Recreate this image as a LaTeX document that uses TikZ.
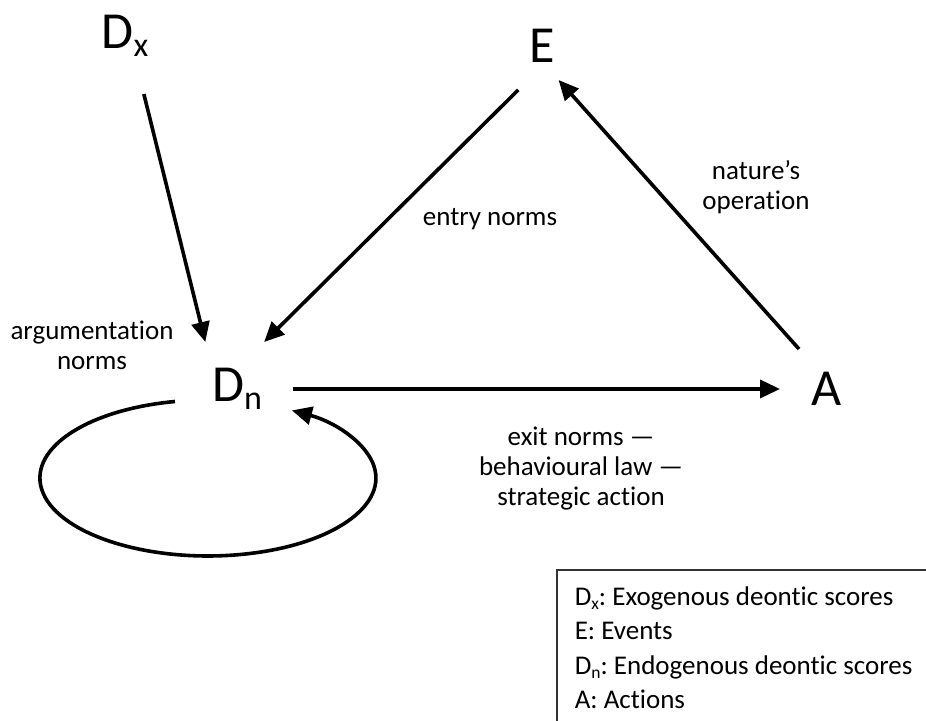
\documentclass[tikz,border=0pt]{standalone}
\usepackage{fontspec}
\setmainfont{Carlito}[Ligatures=NoCommon]
\usetikzlibrary{arrows.meta}
\frenchspacing

\newcommand{\bigsub}[1]{\raisebox{-8pt}{\fontsize{34}{34}\selectfont #1}}
\newcommand{\smallsub}[1]{\raisebox{-4pt}{\fontsize{17.5}{17.5}\selectfont #1}}

\begin{document}
\begin{tikzpicture}[x=1pt, y=1pt, line width=3.6pt, -{Triangle[length=20pt,width=18pt]},
    big/.style={font=\fontsize{52}{60}\selectfont, inner sep=0pt, outer sep=0pt},
    lbl/.style={font=\fontsize{27}{30}\selectfont, align=center, inner sep=0pt}]
        \useasboundingbox (0,0) rectangle (926,720);
        \clip (0,0) rectangle (926,720);

        % scores, events, actions
        \node[big, minimum width=60pt, minimum height=116pt] (dx) at (125,684) {D\bigsub{x}};
        \node[big, minimum width=60pt, minimum height=68pt] (e) at (542,674) {E};
        \node[big, minimum width=112pt, minimum height=94pt] (dn) at (237,331) {D\bigsub{n}};
        \node[big, minimum width=94pt, minimum height=80pt] (a) at (827,331) {A};
        \coordinate (loopstart) at (175,318.5);

        % labels
        \node[lbl] (argnorms) at (92,375) {argumentation\\norms};
        \node[lbl] (entrynorms) at (490,501) {entry norms};
        \node[lbl] (natureop) at (756,533) {nature’s\\operation};
        \node[lbl] (exitnorms) at (581,251) {exit norms —\\behavioural law —\\strategic action};

        \draw (dx.-72.8) -- (dn.124.3);
        \draw[shorten <=14pt] (e.248.4) -- (dn.60.4);
        \draw (a.125) -- (e.-64.8);
        \draw (dn.east) -- (a.west);
        \draw (loopstart) arc[start angle=101.3, end angle=420, x radius=168, y radius=78];

        % legend
        \draw[-, line width=1.3pt, black!80] (557,-20) rectangle (960,150);
        \node[anchor=north west, align=left, inner sep=0pt, font=\fontsize{27}{34.5}\selectfont] (legend) at (573,135.5)
            {D\smallsub{x}: Exogenous deontic scores\\E: Events\\D\smallsub{n}: Endogenous deontic scores\\A: Actions};
    \end{tikzpicture}
\end{document}
